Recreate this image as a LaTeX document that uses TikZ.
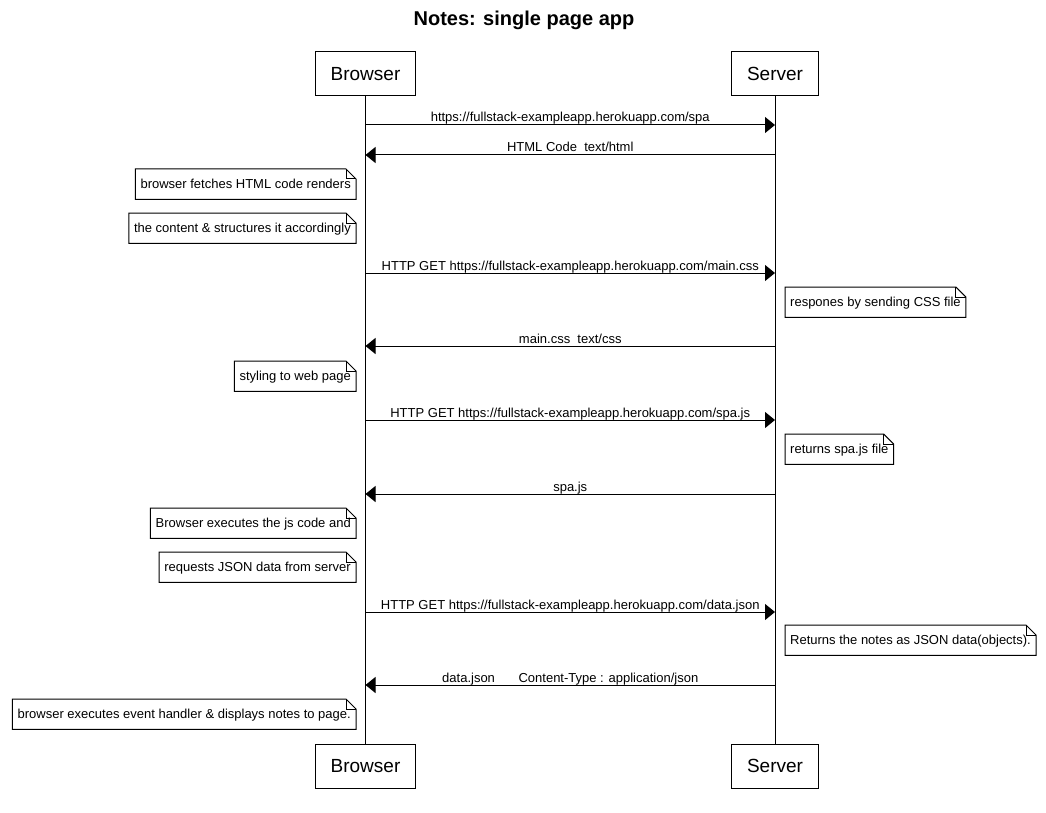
\documentclass[tikz,border=0pt]{standalone}
\usepackage{fontspec}
\setmainfont{Liberation Sans}
\usepackage{tikz}
\usetikzlibrary{arrows.meta}
\tikzset{
actor/.style={draw, line width=1pt, minimum height=44pt, inner xsep=15.5pt, font=\fontsize{19}{22}\selectfont},
note/.style={draw=none, inner xsep=5pt, inner ysep=0pt, text height=10pt, text depth=2pt, minimum height=30pt, font=\fontsize{13}{15}\selectfont},
notebox/.style={line width=1pt},
lifeline/.style={line width=1pt},
toserver/.style={line width=1pt, -{Triangle[length=10pt,width=16pt]}},
tobrowser/.style={line width=1pt, {Triangle[length=10pt,width=16pt]}-},
msglabel/.style={anchor=base, inner sep=0pt, yshift=3pt, font=\fontsize{13}{15}\selectfont}
}
\newcommand*{\NoteAt}[4]{% #1 = name, #2 = anchor, #3 = x,y, #4 = text
\node [note, anchor=#2] (#1) at (#3) {#4};
\draw [notebox] (#1.south west) -- (#1.north west) -- ([xshift=-10pt]#1.north east)
-- ([yshift=-10pt]#1.north east) -- (#1.south east) -- cycle;
\draw [notebox] ([xshift=-10pt]#1.north east) |- ([yshift=-10pt]#1.north east);
}
\newcommand*{\Msg}[4]{% #1 = name, #2 = y, #3 = direction, #4 = text
\coordinate (#1b) at (365.5,#2);
\coordinate (#1s) at (775,#2);
\draw [#3] (#1b) -- node [msglabel] (#1t) {#4} (#1s);
}

\begin{document}
\begin{tikzpicture}[x=1pt,y=-1pt]

            \useasboundingbox (0,0) rectangle (1046,813);
            \node [font=\bfseries\fontsize{20}{24}\selectfont] (title) at (524,20) {Notes: single page app};

            \node [actor] (browser) at (365.5,74) {Browser};
            \node [actor] (server) at (775,74) {Server};
            \node [actor] (browserB) at (365.5,766) {Browser};
            \node [actor] (serverB) at (775,766) {Server};
            \draw [lifeline] (browser) -- (browserB);
            \draw [lifeline] (server) -- (serverB);

            \Msg{m1}{125}{toserver}{https://fullstack-exampleapp.herokuapp.com/spa}
            \Msg{m2}{155}{tobrowser}{HTML Code\ \ text/html}
            \NoteAt{n1}{north east}{356,169}{browser fetches HTML code renders}
            \NoteAt{n2}{north east}{356,213}{the content \& structures it accordingly}
            \Msg{m3}{273}{toserver}{HTTP GET https://fullstack-exampleapp.herokuapp.com/main.css}
            \NoteAt{n3}{north west}{785,287}{respones by sending CSS file}
            \Msg{m4}{346}{tobrowser}{main.css\ \ text/css}
            \NoteAt{n4}{north east}{356,361}{styling to web page}
            \Msg{m5}{420}{toserver}{HTTP GET https://fullstack-exampleapp.herokuapp.com/spa.js}
            \NoteAt{n5}{north west}{785,434}{returns spa.js file}
            \Msg{m6}{494}{tobrowser}{spa.js}
            \NoteAt{n6}{north east}{356,508}{Browser executes the js code and}
            \NoteAt{n7}{north east}{356,552}{requests JSON data from server}
            \Msg{m7}{612}{toserver}{HTTP GET https://fullstack-exampleapp.herokuapp.com/data.json}
            \NoteAt{n8}{north west}{785,625}{Returns the notes as JSON data(objects).}
            \Msg{m8}{685}{tobrowser}{data.json\hspace{20pt} Content-Type : application/json}
            \NoteAt{n9}{north east}{356,699}{browser executes event handler \& displays notes to page.}

        \end{tikzpicture}
\end{document}
